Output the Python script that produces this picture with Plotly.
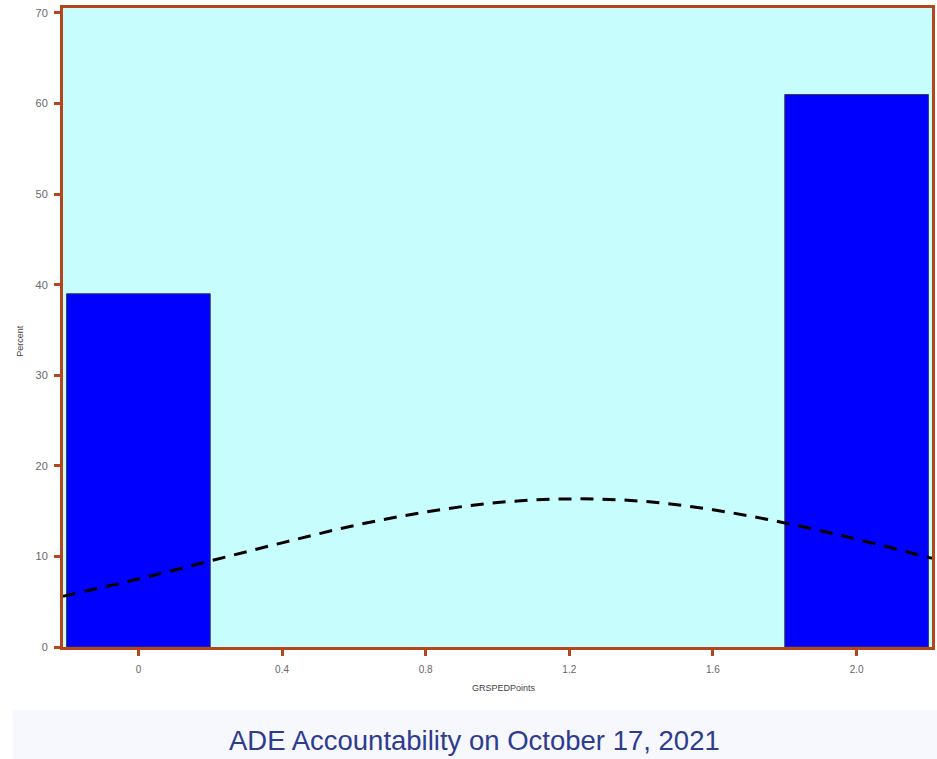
import plotly.graph_objects as go

# Data
categories = [0, 2]
percent_values = [39, 61]
curve_x = [-0.21, -0.2, 0.0, 0.2, 0.4, 0.6, 0.8, 1.0, 1.2, 1.4, 1.6, 1.8, 2.0, 2.2, 2.21]
curve_y = [5.6, 5.7, 7.5, 9.5, 11.5, 13.4, 14.9, 15.95, 16.35, 16.1, 15.15, 13.7, 11.9, 9.9, 9.8]
x_tick_vals = [0, 0.4, 0.8, 1.2, 1.6, 2.0]
x_tick_labels = ["0", "0.4", "0.8", "1.2", "1.6", "2.0"]
y_tick_vals = [0, 10, 20, 30, 40, 50, 60, 70]

axis_col = "#B5461B"

fig = go.Figure()
fig.add_trace(go.Bar(
    x=categories, y=percent_values, width=0.4,
    marker=dict(color="#0000FF", line=dict(color="#3A3A55", width=1)),
    showlegend=False, hoverinfo="x+y",
))
fig.add_trace(go.Scatter(
    x=curve_x, y=curve_y, mode="lines",
    line=dict(color="black", width=3, dash="13px,9px", shape="spline"),
    showlegend=False,
))

fig.update_layout(
    width=937, height=759,
    margin=dict(l=63, r=2, t=8, b=112),
    paper_bgcolor="white",
    plot_bgcolor="#C8FDFD",
    font=dict(family="Liberation Sans, Arial, sans-serif", color="#555"),
    xaxis=dict(
        range=[-0.21, 2.21], tickvals=x_tick_vals, ticktext=x_tick_labels,
        showgrid=False, zeroline=False, showline=True, linecolor=axis_col, linewidth=3,
        mirror=True, ticks="outside", ticklen=6, tickwidth=3, tickcolor=axis_col,
        tickfont=dict(size=10, color="#666"), ticklabelstandoff=5,
    ),
    yaxis=dict(
        range=[0, 70.55], tickvals=y_tick_vals,
        showgrid=False, zeroline=False, showline=True, linecolor=axis_col, linewidth=3,
        mirror=True, ticks="outside", ticklen=6, tickwidth=3, tickcolor=axis_col,
        tickfont=dict(size=11, color="#666"), ticklabelstandoff=4,
    ),
    shapes=[dict(type="rect", xref="paper", yref="paper",
                 x0=-0.058, x1=1.01, y0=-0.18, y1=-0.0986,
                 fillcolor="#F6F8FD", line=dict(width=0), layer="below")],
    annotations=[
        dict(text="Percent", xref="paper", yref="paper", x=-0.049, y=0.48,
             xanchor="center", yanchor="middle",
             textangle=-90, showarrow=False, font=dict(size=9, color="#444")),
        dict(text="GRSPEDPoints", xref="paper", yref="paper", x=0.508, y=-0.064,
             xanchor="center", yanchor="middle",
             showarrow=False, font=dict(size=9, color="#444")),
        dict(text="ADE Accountability on October 17, 2021", xref="paper", yref="paper",
             x=0.474, y=-0.147, xanchor="center", yanchor="middle", showarrow=False,
             font=dict(size=27.5, color="#2D3C8E")),
    ],
)

fig.write_html("out.html", config={"displayModeBar": False},
               post_script="document.body.style.margin='0px';")
